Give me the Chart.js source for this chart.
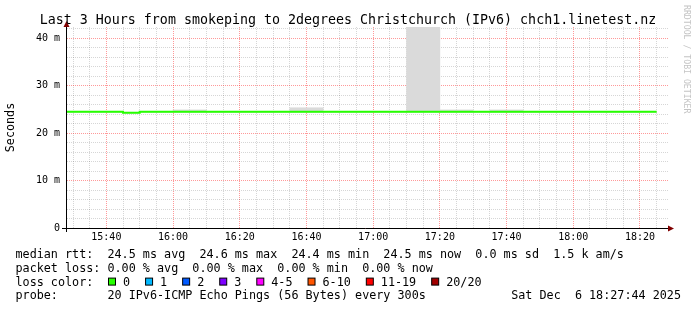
<!DOCTYPE html>
<html>
<head>
<meta charset="utf-8">
<style>html,body{margin:0;padding:0;background:#fff}canvas{display:block}</style>
<script src="https://cdn.jsdelivr.net/npm/chart.js@4.4.1/dist/chart.umd.min.js"></script>
</head>
<body>
<canvas id="chart" width="697" height="310"></canvas>
<script>
// start of each 5 minute step, in minutes after 15:00
var binStart = [25, 30, 35, 40, 45, 50, 55, 60, 65, 70, 75, 80, 85, 90, 95, 100, 105, 110,
                115, 120, 125, 130, 135, 140, 145, 150, 155, 160, 165, 170, 175, 180, 185, 190, 195, 200];
var medianMs = [24.5, 24.5, 24.5, 24.5, 24.3, 24.5, 24.5, 24.5, 24.5, 24.5, 24.5, 24.5,
                24.5, 24.5, 24.5, 24.5, 24.5, 24.5, 24.5, 24.5, 24.5, 24.5, 24.5, 24.5,
                24.5, 24.5, 24.5, 24.5, 24.5, 24.5, 24.5, 24.5, 24.5, 24.5, 24.5, 24.5];
var smokeLoMs = [24.4, 24.4, 24.4, 24.4, 24.2, 24.4, 24.4, 24.4, 24.4, 24.4, 24.4, 24.4,
                 24.4, 24.4, 24.4, 24.4, 24.4, 24.4, 24.4, 24.4, 24.4, 24.4, 24.4, 24.4,
                 24.4, 24.4, 24.4, 24.4, 24.4, 24.4, 24.4, 24.4, 24.4, 24.4, 24.4, 24.4];
var smokeHiMs = [24.6, 24.6, 24.6, 24.6, 24.4, 24.6, 24.6, 24.9, 24.9, 24.6, 24.6, 24.6,
                 24.6, 24.6, 25.35, 25.35, 24.6, 24.6, 24.6, 24.6, 24.6, 48.0, 48.0, 24.9,
                 24.9, 24.6, 24.9, 24.9, 24.6, 24.6, 24.6, 24.6, 24.6, 24.6, 24.6, 24.6];
var lossCount = [0, 0, 0, 0, 0, 0, 0, 0, 0, 0, 0, 0, 0, 0, 0, 0, 0, 0,
                 0, 0, 0, 0, 0, 0, 0, 0, 0, 0, 0, 0, 0, 0, 0, 0, 0, 0];

var xTickValues = [40, 60, 80, 100, 120, 140, 160, 180, 200];
var xTickLabels = ['15:40', '16:00', '16:20', '16:40', '17:00', '17:20', '17:40', '18:00', '18:20'];
var yTickValues = [0, 10, 20, 30, 40];
var yTickLabels = ['0', '10 m', '20 m', '30 m', '40 m'];

var lossLabels = ['0', '1', '2', '3', '4-5', '6-10', '11-19', '20/20'];
var lossUpper = [0, 1, 2, 3, 5, 10, 19, 20];
var lossColors = ['#26ff00', '#00b8ff', '#0059ff', '#7e00ff', '#ff00ff', '#ff5500', '#ff0000', '#a10000'];

var titleText = 'Last 3 Hours from smokeping to 2degrees Christchurch (IPv6) chch1.linetest.nz';
var statLines = [
  'median rtt:  24.5 ms avg  24.6 ms max  24.4 ms min  24.5 ms now  0.0 ms sd  1.5 k am/s',
  'packet loss: 0.00 % avg  0.00 % max  0.00 % min  0.00 % now'
];
var lossTitle = 'loss color:';
var probeText = 'probe:       20 IPv6-ICMP Echo Pings (56 Bytes) every 300s';
var stampText = 'Sat Dec  6 18:27:44 2025';
var sideText = 'RRDTOOL / TOBI OETIKER';

var viewStart = 28.2, viewEnd = 208.4, yTop = 42.38;
var MONO = '"DejaVu Sans Mono", monospace';
var minorGrid = 'rgba(0,0,0,0.16)';
var majorGrid = 'rgba(255,0,0,0.4)';

function lossColor(n) {
  for (var i = 0; i < lossUpper.length; i++) if (n <= lossUpper[i]) return lossColors[i];
  return lossColors[lossColors.length - 1];
}

var last = binStart.length - 1;
var medianPoints = binStart.map(function(t, i) { return { x: t, y: medianMs[i] }; });
medianPoints.push({ x: binStart[last] + 5, y: medianMs[last] });
var smokeBars = binStart.map(function(t, i) { return { x: t + 2.5, y: [smokeLoMs[i], smokeHiMs[i]] }; });

function gridColor(step) {
  return function(c) {
    var v = c.tick ? c.tick.value : NaN;
    return Math.abs(v / step - Math.round(v / step)) < 1e-6 ? majorGrid : minorGrid;
  };
}

var decor = {
  id: 'decor',
  afterDraw: function(chart) {
    var ctx = chart.ctx, a = chart.chartArea;
    ctx.save();
    // axes
    ctx.strokeStyle = '#000';
    ctx.lineWidth = 1;
    ctx.beginPath();
    ctx.moveTo(a.left - 5, a.bottom + 0.5); ctx.lineTo(a.right + 1, a.bottom + 0.5);
    ctx.moveTo(a.left - 0.5, a.bottom + 4); ctx.lineTo(a.left - 0.5, a.top - 1);
    ctx.stroke();
    ctx.fillStyle = '#800000';
    ctx.beginPath();
    ctx.moveTo(a.right, a.bottom - 2.5); ctx.lineTo(a.right, a.bottom + 3.5); ctx.lineTo(a.right + 6, a.bottom + 0.5);
    ctx.closePath(); ctx.fill();
    ctx.beginPath();
    ctx.moveTo(a.left - 3.5, a.top); ctx.lineTo(a.left + 2.5, a.top); ctx.lineTo(a.left - 0.5, a.top - 6);
    ctx.closePath(); ctx.fill();

    // title
    ctx.fillStyle = '#000';
    ctx.font = '13.3px ' + MONO;
    ctx.textAlign = 'center';
    ctx.textBaseline = 'alphabetic';
    ctx.fillText(titleText, 348, 24);

    // watermark
    ctx.save();
    ctx.translate(686.5, 5);
    ctx.rotate(Math.PI / 2);
    ctx.font = '8.2px ' + MONO;
    ctx.fillStyle = '#c4c4c4';
    ctx.textAlign = 'left';
    ctx.textBaseline = 'middle';
    ctx.fillText(sideText, 0, 0);
    ctx.restore();

    // legend
    var x0 = 15.5, base = [258, 271.8, 285.6, 299.4];
    ctx.font = '11.75px ' + MONO;
    ctx.textAlign = 'left';
    ctx.fillStyle = '#000';
    ctx.fillText(statLines[0], x0, base[0]);
    ctx.fillText(statLines[1], x0, base[1]);
    ctx.fillText(lossTitle, x0, base[2]);
    var bx = 108;
    lossLabels.forEach(function(lbl, i) {
      ctx.fillStyle = lossColors[i];
      ctx.fillRect(bx + 0.5, base[2] - 7.5, 7, 7);
      ctx.strokeStyle = '#000';
      ctx.strokeRect(bx + 0.5, base[2] - 7.5, 7, 7);
      ctx.fillStyle = '#000';
      ctx.fillText(lbl, bx + 15, base[2]);
      bx += 15 + ctx.measureText(lbl).width + 15;
    });
    ctx.fillText(probeText, x0, base[3]);
    ctx.textAlign = 'right';
    ctx.fillText(stampText, 681, base[3]);
    ctx.restore();
  }
};

new Chart(document.getElementById('chart'), {
  data: {
    datasets: [
      { type: 'line', label: 'median', data: medianPoints, stepped: true, borderWidth: 2, pointRadius: 0,
        borderColor: lossColors[0], order: 0,
        segment: { borderColor: function(c) { return lossColor(lossCount[Math.min(c.p0DataIndex, last)]); } } },
      { type: 'bar', label: 'smoke', data: smokeBars, backgroundColor: '#dadada', borderWidth: 0,
        barPercentage: 1, categoryPercentage: 1, order: 1 }
    ]
  },
  options: {
    responsive: false,
    animation: false,
    layout: { padding: { left: 0, top: 27, right: 29, bottom: 0 } },
    plugins: { legend: { display: false }, tooltip: { enabled: false } },
    scales: {
      x: {
        type: 'linear', position: 'bottom', min: viewStart, max: viewEnd, offset: false,
        afterFit: function(s) { s.height = 82; },
        grid: { drawTicks: false, lineWidth: 1, offset: false, color: gridColor(20) },
        border: { display: false, dash: [1, 1] },
        ticks: { stepSize: 5, includeBounds: false, autoSkip: false, maxRotation: 0, maxTicksLimit: 100,
                 padding: 3, color: '#000', font: { family: MONO, size: 10 },
                 callback: function(v) { var k = xTickValues.indexOf(v); return k < 0 ? '' : xTickLabels[k]; } }
      },
      y: {
        type: 'linear', position: 'left', min: 0, max: yTop,
        afterFit: function(s) { s.width = 67; },
        title: { display: true, text: 'Seconds', color: '#000', font: { family: MONO, size: 11.75 } },
        grid: { drawTicks: false, lineWidth: 1, color: gridColor(10) },
        border: { display: false, dash: [1, 1] },
        ticks: { stepSize: 2, includeBounds: false, autoSkip: false, maxTicksLimit: 100,
                 padding: 7, color: '#000', font: { family: MONO, size: 10 },
                 callback: function(v) { var k = yTickValues.indexOf(v); return k < 0 ? '' : yTickLabels[k]; } }
      }
    }
  },
  plugins: [decor]
});
</script>
</body>
</html>
